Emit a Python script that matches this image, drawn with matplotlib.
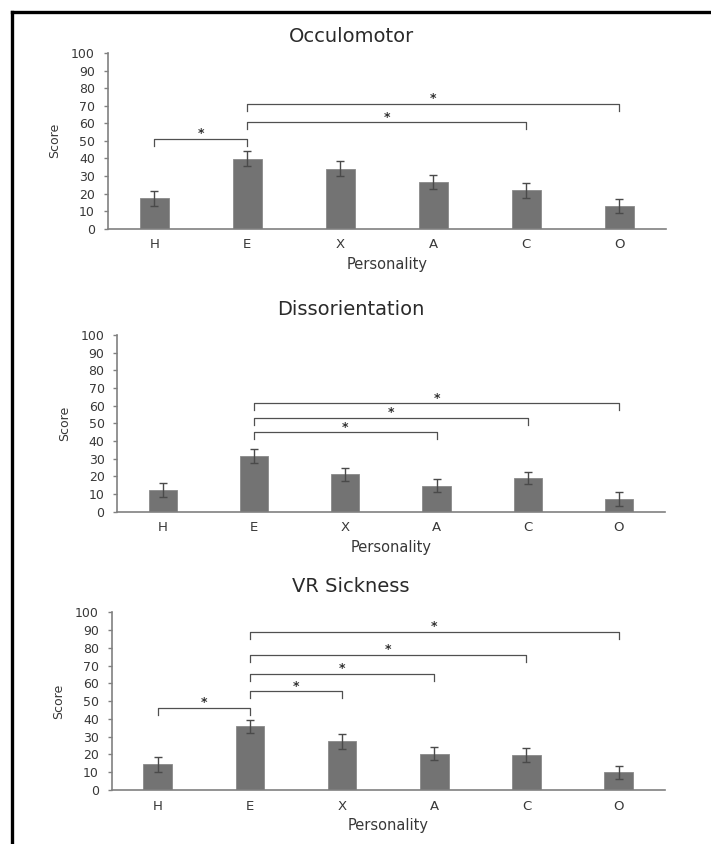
import matplotlib
matplotlib.use("Agg")
import matplotlib.pyplot as plt
from matplotlib.lines import Line2D

# Personality factors on the x axis
categories = ["H", "E", "X", "A", "C", "O"]

# Occulomotor scores (mean and error)
occ_mean = [17.3, 39.8, 34.2, 26.6, 21.8, 13.1]
occ_err = [4.1, 4.2, 4.1, 4.1, 4.2, 4.0]

# Dissorientation scores
dis_mean = [12.1, 31.5, 21.1, 14.7, 19.1, 7.2]
dis_err = [3.9, 3.8, 3.6, 3.6, 3.5, 3.7]

# VR sickness scores
vr_mean = [14.4, 35.8, 27.4, 20.5, 19.9, 9.9]
vr_err = [4.0, 3.8, 4.3, 3.7, 3.9, 3.8]

# Significance brackets: (from index, to index, height)
occ_brackets = [(0, 1, 51.0), (1, 4, 60.5), (1, 5, 71.0)]
dis_brackets = [(1, 3, 44.9), (1, 4, 53.2), (1, 5, 61.3)]
vr_brackets = [(0, 1, 46.0), (1, 2, 55.5), (1, 3, 65.1), (1, 4, 76.2), (1, 5, 89.1)]

panel_titles = ["Occulomotor", "Dissorientation", "VR Sickness"]

W, H = 711, 844
BAR_COLOR = "#737373"
LINE_COLOR = "#808080"
TEXT_COLOR = "#383838"

plt.rcParams["font.family"] = ["DejaVu Sans"]


def draw_panel(fig, rect_px, title_y, means, errs, brackets, title):
    # rect_px = (left, top, right, bottom) in image pixels
    left, top, right, bottom = rect_px
    ax = fig.add_axes([left / W, 1 - bottom / H, (right - left) / W, (bottom - top) / H])
    x = list(range(len(categories)))
    ax.bar(x, means, width=0.31, color=BAR_COLOR, edgecolor="#8a8a8a", linewidth=0.6, zorder=2)
    ax.errorbar(x, means, yerr=errs, fmt="none", ecolor="#4a4a4a", elinewidth=1.0,
                capsize=3, capthick=1.0, zorder=3)

    # Significance brackets with stars
    for i, j, y in brackets:
        ax.plot([i, i, j, j], [y - 4, y, y, y - 4], color="#505050", lw=0.9, zorder=3)
        ax.text((i + j) / 2, y + 3.0, "*", ha="center", va="center", fontsize=9,
                fontweight="bold", color="#303030")

    ax.set_xlim(-0.5, len(categories) - 0.5)
    ax.set_ylim(0, 100)
    ax.set_yticks(range(0, 101, 10))
    ax.set_xticks(x)
    ax.set_xticklabels(categories)

    for side in ["top", "right"]:
        ax.spines[side].set_visible(False)
    for side in ["left", "bottom"]:
        ax.spines[side].set_color(LINE_COLOR)
        ax.spines[side].set_linewidth(1.2)

    ax.tick_params(axis="x", length=0, pad=7, labelsize=9.5, labelcolor=TEXT_COLOR)
    ax.tick_params(axis="y", length=3.2, width=1.0, color=LINE_COLOR, pad=6,
                   labelsize=9, labelcolor=TEXT_COLOR)
    ax.set_xlabel("Personality", fontsize=10.5, color=TEXT_COLOR, labelpad=4)
    ax.set_ylabel("Score", fontsize=9, color=TEXT_COLOR, labelpad=7)

    fig.text(351 / W, 1 - title_y / H, title, ha="center", va="center",
             fontsize=14, color="#2a2a2a")
    return ax


fig = plt.figure(figsize=(W / 100, H / 100), dpi=100)

draw_panel(fig, (107.7, 53, 665.7, 228.7), 36.7, occ_mean, occ_err, occ_brackets, panel_titles[0])
draw_panel(fig, (117.3, 335, 664.5, 511.7), 309.3, dis_mean, dis_err, dis_brackets, panel_titles[1])
draw_panel(fig, (111.7, 612.3, 664.7, 790), 586.7, vr_mean, vr_err, vr_brackets, panel_titles[2])

# Black frame on top and left side
fig.add_artist(Line2D([11.5 / W, 11.5 / W], [0, 1 - 11.5 / H], color="black", lw=2.4,
                      transform=fig.transFigure))
fig.add_artist(Line2D([11.5 / W, 1], [1 - 11.5 / H, 1 - 11.5 / H], color="black", lw=2.4,
                      transform=fig.transFigure))

plt.savefig("out.png", dpi=100)
